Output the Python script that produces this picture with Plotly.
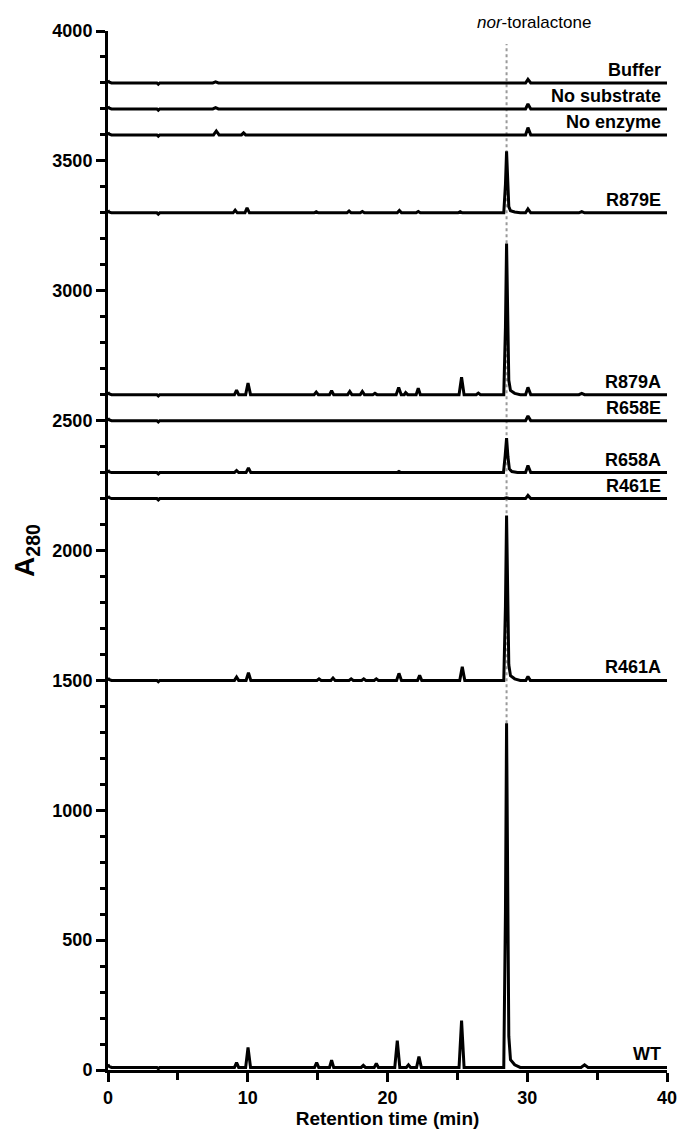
import plotly.graph_objects as go

# ---------------- data ----------------
sample_names = ["WT", "R461A", "R461E", "R658A", "R658E", "R879A", "R879E",
                "No enzyme", "No substrate", "Buffer"]
baselines = [10, 1500, 2200, 2300, 2500, 2600, 3300, 3600, 3700, 3800]

product_time = 28.52          # nor-toralactone retention time (min)
marker_top = 3950             # top of the dotted reference line

t_wt = [0, 0.05, 0.25, 3.5, 3.6, 3.7, 9.05, 9.2, 9.35, 9.85, 10.02, 10.2,
        14.78, 14.93, 15.08, 15.85, 16.0, 16.15, 18.12, 18.27, 18.42,
        19.05, 19.2, 19.35, 20.52, 20.7, 20.88, 21.35, 21.5, 21.65,
        22.08, 22.25, 22.42, 25.12, 25.3, 25.48, 28.32, 28.44, 28.52,
        28.6, 28.68, 28.8, 29.1, 29.5, 33.85, 34.1, 34.35, 40]
s_wt = [12, 5, 0, 0, -5, 0, 0, 19, 0, 0, 77, 0,
        0, 19, 0, 0, 28, 0, 0, 8, 0,
        0, 15, 0, 0, 103, 0, 0, 10, 0,
        0, 42, 0, 0, 180, 0, 0, 600, 1325,
        600, 120, 30, 10, 0, 0, 10, 0, 0]

t_r461a = [0, 0.05, 0.25, 3.5, 3.6, 3.7, 9.05, 9.2, 9.35, 9.88, 10.05, 10.22,
           14.95, 15.1, 15.25, 15.95, 16.1, 16.25, 17.25, 17.4, 17.55,
           18.15, 18.3, 18.45, 19.05, 19.2, 19.35, 20.65, 20.82, 21.0,
           22.15, 22.3, 22.45, 25.17, 25.35, 25.53, 28.32, 28.44, 28.52,
           28.6, 28.68, 28.8, 29.1, 29.5, 29.9, 30.05, 30.22, 40]
s_r461a = [10, 4, 0, 0, -5, 0, 0, 13, 0, 0, 30, 0,
           0, 6, 0, 0, 9, 0, 0, 6, 0,
           0, 6, 0, 0, 6, 0, 0, 27, 0,
           0, 19, 0, 0, 52, 0, 0, 285, 635,
           285, 60, 18, 6, 0, 0, 15, 0, 0]

t_r461e = [0, 0.05, 0.25, 3.5, 3.6, 3.7, 28.35, 28.52, 28.7, 29.88, 30.05, 30.25, 40]
s_r461e = [10, 4, 0, 0, -5, 0, 0, 3, 0, 0, 12, 0, 0]

t_r658a = [0, 0.05, 0.25, 3.5, 3.6, 3.7, 9.05, 9.2, 9.35, 9.88, 10.05, 10.22,
           20.68, 20.82, 20.96, 28.3, 28.42, 28.52, 28.62, 28.72, 28.9, 29.3,
           29.88, 30.05, 30.25, 40]
s_r658a = [10, 4, 0, 0, -5, 0, 0, 8, 0, 0, 18, 0,
           0, 4, 0, 0, 65, 133, 60, 14, 4, 0,
           0, 27, 0, 0]

t_r658e = [0, 0.05, 0.25, 3.5, 3.6, 3.7, 29.88, 30.05, 30.25, 40]
s_r658e = [10, 4, 0, 0, -5, 0, 0, 18, 0, 0]

t_r879a = [0, 0.05, 0.25, 3.5, 3.6, 3.7, 9.05, 9.2, 9.35, 9.85, 10.02, 10.2,
           14.75, 14.9, 15.05, 15.85, 16.0, 16.15, 17.15, 17.3, 17.45,
           18.05, 18.2, 18.35, 18.95, 19.1, 19.25, 20.62, 20.8, 20.98,
           21.2, 21.3, 21.45, 22.05, 22.2, 22.35, 25.12, 25.3, 25.48,
           26.35, 26.5, 26.65, 28.32, 28.44, 28.52, 28.6, 28.68, 28.8, 29.1, 29.5,
           29.88, 30.05, 30.25, 33.7, 33.9, 34.1, 40]
s_r879a = [10, 4, 0, 0, -5, 0, 0, 17, 0, 0, 45, 0,
           0, 10, 0, 0, 15, 0, 0, 12, 0,
           0, 12, 0, 0, 5, 0, 0, 28, 0,
           0, 8, 0, 0, 25, 0, 0, 67, 0,
           0, 6, 0, 0, 260, 582, 260, 55, 16, 5, 0,
           0, 28, 0, 0, 5, 0, 0]

t_r879e = [0, 0.05, 0.25, 3.5, 3.6, 3.7, 8.95, 9.1, 9.25, 9.8, 9.95, 10.12,
           14.75, 14.9, 15.05, 17.1, 17.25, 17.4, 18.05, 18.2, 18.35,
           20.7, 20.85, 21.0, 22.05, 22.2, 22.35, 25.05, 25.2, 25.35,
           28.32, 28.44, 28.52, 28.6, 28.68, 28.8, 29.1, 29.5,
           29.88, 30.05, 30.25, 33.7, 33.9, 34.1, 40]
s_r879e = [10, 4, 0, 0, -5, 0, 0, 10, 0, 0, 19, 0,
           0, 4, 0, 0, 7, 0, 0, 5, 0,
           0, 9, 0, 0, 5, 0, 0, 4, 0,
           0, 110, 237, 105, 24, 8, 3, 0,
           0, 15, 0, 0, 5, 0, 0]

t_noenz = [0, 0.05, 0.25, 3.5, 3.6, 3.7, 7.55, 7.75, 7.95, 9.55, 9.7, 9.85,
           29.88, 30.05, 30.25, 40]
s_noenz = [10, 4, 0, 0, -5, 0, 0, 15, 0, 0, 8, 0, 0, 28, 0, 0]

t_nosub = [0, 0.05, 0.25, 3.5, 3.6, 3.7, 7.5, 7.7, 7.9, 29.88, 30.05, 30.25, 40]
s_nosub = [10, 4, 0, 0, -5, 0, 0, 5, 0, 0, 19, 0, 0]

t_buffer = [0, 0.05, 0.25, 3.5, 3.6, 3.7, 7.5, 7.7, 7.9, 29.88, 30.05, 30.25, 40]
s_buffer = [10, 4, 0, 0, -5, 0, 0, 4, 0, 0, 14, 0, 0]

times = [t_wt, t_r461a, t_r461e, t_r658a, t_r658e, t_r879a, t_r879e,
         t_noenz, t_nosub, t_buffer]
signals = [s_wt, s_r461a, s_r461e, s_r658a, s_r658e, s_r879a, s_r879e,
           s_noenz, s_nosub, s_buffer]

x_ticks = [0, 10, 20, 30, 40]
y_ticks = [0, 500, 1000, 1500, 2000, 2500, 3000, 3500, 4000]

# ---------------- figure ----------------
FONT = "Liberation Sans, Arial, Helvetica, sans-serif"
fig = go.Figure()

# dotted reference line at the product retention time (behind traces)
fig.add_trace(go.Scatter(
    x=[product_time, product_time],
    y=[baselines[0] + max(s_wt), marker_top],
    mode="lines", line=dict(color="#9a9a9a", width=2, dash="dot"),
    hoverinfo="skip", showlegend=False))

for name, base, tt, ss in zip(sample_names, baselines, times, signals):
    fig.add_trace(go.Scatter(
        x=tt, y=[base + v for v in ss], mode="lines", name=name,
        line=dict(color="black", width=3), showlegend=False))
    fig.add_annotation(
        x=39.72, y=base, xref="x", yref="y", text=name, showarrow=False,
        xanchor="right", yanchor="bottom", yshift=1,
        font=dict(family=FONT, size=18, color="black", weight="bold"))

fig.add_annotation(
    x=30.5, y=1.008, xref="x", yref="paper", text="<i>nor</i>-toralactone",
    showarrow=False, xanchor="center", yanchor="middle",
    font=dict(family=FONT, size=17, color="black"))

axis_common = dict(
    showline=True, linewidth=3, linecolor="black", mirror=False,
    ticks="outside", tickwidth=3, tickcolor="black", ticklen=9,
    showgrid=False, zeroline=False, ticklabeloverflow="allow",
    tickfont=dict(family=FONT, size=18, color="black", weight="bold"),
)

fig.update_xaxes(
    range=[0, 40], tickvals=x_ticks, **axis_common,
    minor=dict(dtick=5, ticks="outside", ticklen=7, tickwidth=3, tickcolor="black"),
    title=dict(text="Retention time (min)", standoff=6,
               font=dict(family=FONT, size=19, color="black", weight="bold")))
fig.update_yaxes(
    range=[0, 4000], tickvals=y_ticks, **axis_common,
    minor=dict(dtick=100, ticks="outside", ticklen=5, tickwidth=3, tickcolor="black"),
    title=dict(text="A<sub>280</sub>", standoff=10,
               font=dict(family=FONT, size=28, color="black", weight="bold")))

fig.update_layout(
    width=677, height=1132,
    margin=dict(l=108, r=10, t=31, b=62, autoexpand=False),
    plot_bgcolor="white", paper_bgcolor="white",
    showlegend=False,
)

fig.write_html("out.html")
